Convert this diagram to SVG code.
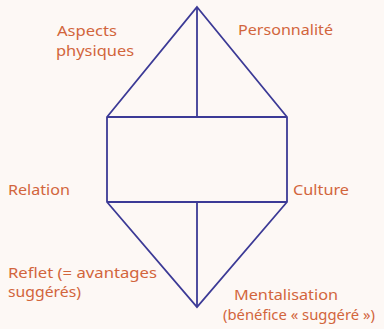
<svg xmlns="http://www.w3.org/2000/svg" width="384" height="329" viewBox="0 0 384 329">
<style>
.bg{fill:#fdf8f5}
.ln{fill:none;stroke:#3c3a96;stroke-width:1.8;stroke-linejoin:miter}
.t{font-family:"Noto Sans","Open Sans",sans-serif;font-size:15px;fill:#d2653c}
</style>
<rect class="bg" x="0" y="0" width="384" height="329"/>
<g id="connectors">
<polygon class="ln" points="197,7 287,117 287,202 197,307 107,202 107,117"/>
<line class="ln" x1="107" y1="117" x2="287" y2="117"/>
<line class="ln" x1="107" y1="202" x2="287" y2="202"/>
<line class="ln" x1="197" y1="7" x2="197" y2="117"/>
<line class="ln" x1="197" y1="202" x2="197" y2="307"/>
</g>
<g id="aspects"><text class="t" x="57" y="36" textLength="60" lengthAdjust="spacingAndGlyphs">Aspects</text><text class="t" x="56" y="56" textLength="78" lengthAdjust="spacingAndGlyphs">physiques</text></g>
<g id="personnalite"><text class="t" x="238" y="35" textLength="95" lengthAdjust="spacingAndGlyphs">Personnalité</text></g>
<g id="relation"><text class="t" x="8" y="195" textLength="62" lengthAdjust="spacingAndGlyphs">Relation</text></g>
<g id="culture"><text class="t" x="293" y="195" textLength="56" lengthAdjust="spacingAndGlyphs">Culture</text></g>
<g id="reflet"><text class="t" x="8" y="278" textLength="149" lengthAdjust="spacingAndGlyphs">Reflet (= avantages</text><text class="t" x="8" y="297" textLength="73" lengthAdjust="spacingAndGlyphs">suggérés)</text></g>
<g id="mentalisation"><text class="t" x="234" y="300" textLength="104" lengthAdjust="spacingAndGlyphs">Mentalisation</text><text class="t" x="223" y="320" textLength="152" lengthAdjust="spacingAndGlyphs">(bénéfice « suggéré »)</text></g>
</svg>
